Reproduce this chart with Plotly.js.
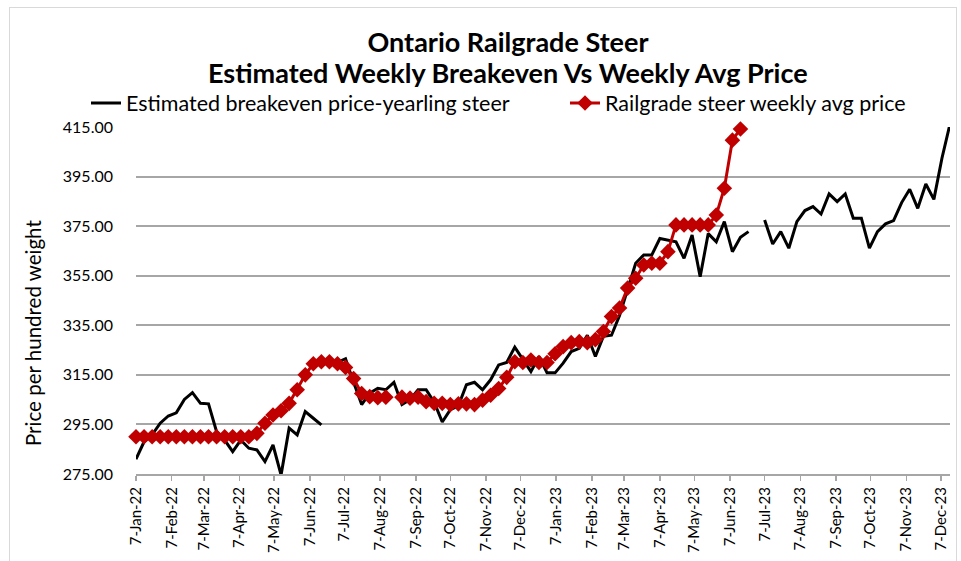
<!DOCTYPE html>
<html>
<head>
<meta charset="utf-8">
<script src="https://cdn.plot.ly/plotly-3.0.1.min.js"></script>
<style>
  html, body { margin: 0; padding: 0; background: #fff; }
  #wrap { position: relative; width: 961px; height: 561px; }
  #chart { width: 961px; height: 561px; }
  #frame { position: absolute; left: 9px; top: 7px; width: 948px; height: 560px; border: 1px solid #d9d9d9; box-sizing: border-box; pointer-events: none; }
</style>
</head>
<body>
<div id="wrap"><div id="chart"></div><div id="frame"></div></div>
<script>
// Weekly dates (Fridays)
const weeks = [
  '2022-01-07','2022-01-14','2022-01-21','2022-01-28','2022-02-04','2022-02-11','2022-02-18','2022-02-25',
  '2022-03-04','2022-03-11','2022-03-18','2022-03-25','2022-04-01','2022-04-08','2022-04-15','2022-04-22','2022-04-29',
  '2022-05-06','2022-05-13','2022-05-20','2022-05-27','2022-06-03','2022-06-10','2022-06-17','2022-06-24',
  '2022-07-01','2022-07-08','2022-07-15','2022-07-22','2022-07-29','2022-08-05','2022-08-12','2022-08-19','2022-08-26',
  '2022-09-02','2022-09-09','2022-09-16','2022-09-23','2022-09-30','2022-10-07','2022-10-14','2022-10-21','2022-10-28',
  '2022-11-04','2022-11-11','2022-11-18','2022-11-25','2022-12-02','2022-12-09','2022-12-16','2022-12-23','2022-12-30',
  '2023-01-06','2023-01-13','2023-01-20','2023-01-27','2023-02-03','2023-02-10','2023-02-17','2023-02-24',
  '2023-03-03','2023-03-10','2023-03-17','2023-03-24','2023-03-31','2023-04-07','2023-04-14','2023-04-21','2023-04-28',
  '2023-05-05','2023-05-12','2023-05-19','2023-05-26','2023-06-02','2023-06-09','2023-06-16','2023-06-23','2023-06-30',
  '2023-07-07','2023-07-14','2023-07-21','2023-07-28','2023-08-04','2023-08-11','2023-08-18','2023-08-25',
  '2023-09-01','2023-09-08','2023-09-15','2023-09-22','2023-09-29','2023-10-06','2023-10-13','2023-10-20','2023-10-27',
  '2023-11-03','2023-11-10','2023-11-17','2023-11-24','2023-12-01','2023-12-08','2023-12-15'
];

// Estimated breakeven price - yearling steer
const breakeven = [
  281.0, 288.0, 290.8, 295.5, 298.4, 299.7, 305.1, 307.8, 303.5, 303.3, 292.1, 288.7, 284.0, 288.7, 285.4, 284.7,
  280.0, 286.7, 274.6, 293.5, 290.8, 300.2, 297.5, 294.8, null,
  320.0, 321.5, 312.0, 303.0, 307.6, 309.6, 309.0, 312.0, 303.0, 305.0, 309.0, 309.0, 304.0, 296.0, 301.0, 302.5,
  311.0, 312.0, 309.0, 313.0, 319.0, 320.0, 326.2, 321.0, 316.3, 322.4, 315.8,
  315.8, 319.7, 324.4, 325.7, 331.0, 322.4, 330.6, 331.0, 339.0, 350.0, 360.0, 363.4, 363.4, 370.0, 369.4, 368.7,
  362.0, 371.4, 354.6, 372.0, 368.7, 376.8, 364.7, 370.5, 372.8, null,
  377.5, 367.8, 372.8, 366.1, 376.8, 381.3, 382.9, 379.9, 388.0, 384.9, 388.0, 378.2, 378.2, 366.1, 372.8, 375.9,
  377.2, 384.5, 389.9, 382.2, 392.0, 385.8, 402.4, 416.2
];

// Railgrade steer weekly average price
const railgrade = [
  290, 290, 290, 290, 290, 290, 290, 290, 290, 290, 290, 290, 290, 290, 290,
  291.4, 295.5, 298.8, 300.5, 303.5, 309.0, 315.0, 319.5, 320.3, 320.3, 319.5, 318.0, 313.5, 307.5, 306.2, 305.8,
  306.0, null, 306.0, 305.6, 306.0, 304.2, 303.5, 303.5, 303.0, 303.3, 303.3, 303.0, 304.8, 306.8, 309.5, 314.0,
  320.3, 320.0, 321.0, 320.0, 320.0,
  323.5, 326.4, 328.0, 328.4, 328.0, 329.2, 332.5, 338.5, 342.0, 350.0, 354.0, 359.3, 360.0, 360.0, 364.7, 375.5,
  375.5, 375.5, 375.5, 375.5, 379.5, 390.3, 409.7, 414.2
];

// Monthly tick positions
const monthTicks = [
  '2022-01-07','2022-02-07','2022-03-07','2022-04-07','2022-05-07','2022-06-07','2022-07-07','2022-08-07',
  '2022-09-07','2022-10-07','2022-11-07','2022-12-07','2023-01-07','2023-02-07','2023-03-07','2023-04-07',
  '2023-05-07','2023-06-07','2023-07-07','2023-08-07','2023-09-07','2023-10-07','2023-11-07','2023-12-07'
];

const titleLine1 = 'Ontario Railgrade Steer';
const titleLine2 = 'Estimated Weekly Breakeven Vs Weekly Avg Price';
const yTitle = 'Price per hundred weight';

const FONT = 'Lato, "Open Sans", sans-serif';

const traces = [
  {
    x: weeks, y: breakeven, type: 'scatter', mode: 'lines',
    name: 'Estimated breakeven price-yearling steer',
    legend: 'legend',
    line: { color: '#000000', width: 3 },
    connectgaps: false, cliponaxis: false
  },
  {
    x: weeks.slice(0, railgrade.length), y: railgrade, type: 'scatter', mode: 'lines+markers',
    name: 'Railgrade steer weekly avg price',
    legend: 'legend2',
    line: { color: '#C00000', width: 3 },
    marker: { symbol: 'diamond', size: 12, color: '#C00000' },
    connectgaps: false, cliponaxis: false
  }
];

const legendBase = {
  orientation: 'h',
  xanchor: 'left', xref: 'container',
  yref: 'container', y: 1 - 103 / 561, yanchor: 'middle',
  font: { family: FONT, size: 21.5, color: '#000000' },
  bgcolor: 'rgba(0,0,0,0)'
};

const layout = {
  width: 961, height: 561,
  margin: { l: 136, r: 11, t: 127, b: 87, autoexpand: false },
  paper_bgcolor: '#ffffff', plot_bgcolor: '#ffffff',
  font: { family: FONT, color: '#000000' },
  title: {
    text: '<b>' + titleLine1 + '</b>',
    font: { family: FONT, size: 27, color: '#000000' },
    xref: 'container', x: 0.5286, xanchor: 'center',
    yref: 'container', y: 1 - 43 / 561, yanchor: 'middle'
  },
  annotations: [
    {
      text: '<b>' + titleLine2 + '</b>',
      font: { family: FONT, size: 27, color: '#000000' },
      xref: 'paper', x: (508 - 136) / 814, xanchor: 'center',
      yref: 'paper', y: (474 - 73) / 347, yanchor: 'middle',
      showarrow: false
    },
    {
      text: yTitle,
      font: { family: FONT, size: 20.5, color: '#000000' },
      textangle: -90,
      xref: 'paper', x: (33 - 136) / 814, xanchor: 'center',
      yref: 'paper', y: (474 - 333) / 347, yanchor: 'middle',
      showarrow: false
    }
  ],
  showlegend: true,
  legend: Object.assign({}, legendBase, { x: 86 / 961 }),
  legend2: Object.assign({}, legendBase, { x: 565 / 961 }),
  xaxis: {
    type: 'date',
    range: ['2022-01-07', '2023-12-15'],
    tickmode: 'array', tickvals: monthTicks,
    tickformat: '%-d-%b-%y',
    tickangle: -90,
    tickfont: { family: FONT, size: 15, color: '#000000' },
    ticks: 'outside', ticklen: 5, tickcolor: '#a6a6a6', tickwidth: 1.5,
    showline: true, linecolor: '#a6a6a6', linewidth: 2,
    showgrid: false, zeroline: false, automargin: false
  },
  yaxis: {
    range: [275, 415],
    tickmode: 'linear', tick0: 275, dtick: 20,
    tickformat: '.2f',
    tickfont: { family: FONT, size: 16, color: '#000000' },
    ticks: '', ticklabelstandoff: 22,
    showgrid: true, gridcolor: '#a6a6a6', gridwidth: 2,
    showline: false, zeroline: false, automargin: false
  }
};

Plotly.newPlot('chart', traces, layout, { displayModeBar: false, staticPlot: true });
</script>
</body>
</html>
